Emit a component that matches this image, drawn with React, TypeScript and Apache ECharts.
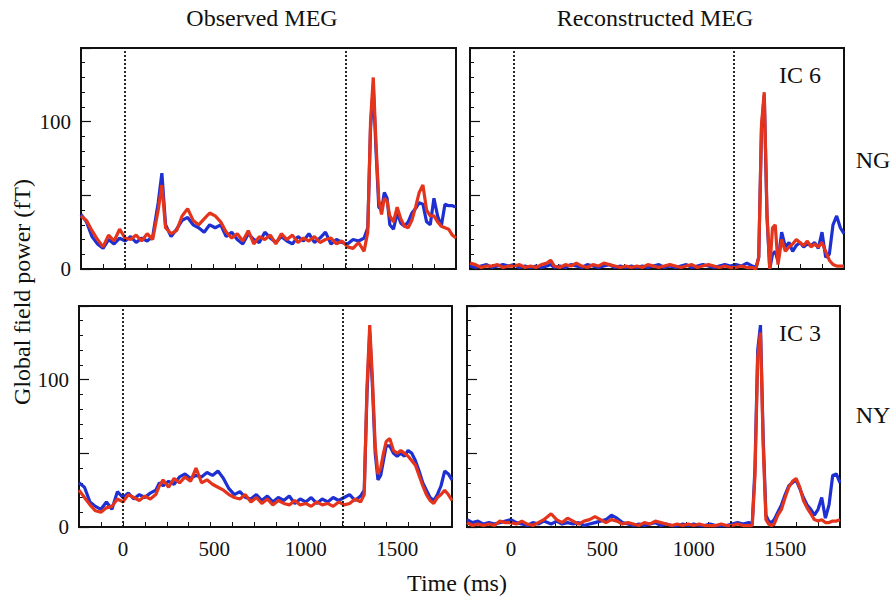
import React, { useEffect, useRef } from "react";
import * as echarts from "echarts";

// Time samples (ms) shared by all traces
const TIME = [-240,-210,-180,-150,-120,-90,-60,-30,0,30,60,90,120,150,180,200,220,250,280,310,340,370,400,430,460,490,520,550,580,610,640,670,700,730,760,790,820,850,880,910,940,970,1000,1030,1060,1090,1120,1150,1180,1210,1240,1270,1300,1320,1335,1350,1365,1380,1395,1410,1425,1440,1460,1480,1500,1520,1540,1560,1580,1600,1620,1640,1660,1680,1700,1720,1740,1760,1780,1800];

// Observed MEG, NG
const OBS_NG_BLUE = [37,32,22,17,14,20,17,21,19,22,18,21,19,22,45,65,30,22,27,33,35,30,28,25,30,28,30,22,25,20,17,24,20,18,25,21,18,22,19,17,22,19,24,18,21,25,17,20,18,17,20,19,21,28,95,124,80,42,40,52,48,30,27,38,31,29,32,38,41,45,44,32,30,48,36,29,44,43,43,42];
const OBS_NG_RED = [36,33,26,20,15,23,19,27,21,20,23,19,24,20,40,57,28,24,26,36,41,33,30,34,38,36,32,25,21,24,19,26,17,22,20,23,17,24,20,23,18,21,19,22,18,20,21,17,19,15,14,18,12,25,100,130,85,47,37,48,46,36,32,42,34,29,28,33,42,52,57,40,36,36,32,29,28,27,23,21];

// Reconstructed MEG, NG (IC 6)
const REC_NG_BLUE = [2,1,2,3,1,2,3,2,3,1,2,1,2,1,2,3,1,2,1,3,2,1,3,2,1,2,3,1,2,1,2,1,2,1,2,3,1,2,1,2,3,1,2,3,2,1,2,3,2,3,2,4,2,1,8,95,118,35,0,10,12,5,25,15,18,12,16,18,15,17,16,18,14,25,8,10,30,36,28,24];
const REC_NG_RED = [4,3,1,2,2,3,1,2,2,3,1,2,1,3,4,6,2,1,3,2,4,2,1,3,2,4,3,2,1,2,1,2,1,3,2,1,2,3,2,1,2,3,1,2,3,2,1,2,1,1,2,1,1,0,8,98,120,38,0,28,30,3,20,12,15,17,20,18,16,19,15,17,15,18,12,6,3,2,2,2];

// Observed MEG, NY
const OBS_NY_BLUE = [30,27,17,14,12,17,12,24,20,23,19,22,20,23,25,30,28,31,29,34,36,33,35,34,37,35,38,33,26,22,24,20,19,22,18,21,17,20,18,21,16,19,17,20,16,19,17,20,18,20,22,18,21,25,90,132,95,50,32,35,45,55,55,50,48,50,48,52,50,45,38,30,25,20,18,22,28,38,36,32];
const OBS_NY_RED = [25,20,15,11,10,13,14,19,17,22,20,18,21,19,22,28,32,27,33,30,34,31,40,30,32,29,27,25,22,20,19,22,17,20,16,19,15,18,16,15,18,15,16,14,17,15,16,14,17,15,16,19,17,22,95,137,100,55,36,40,50,58,60,52,50,52,50,48,45,42,35,28,22,18,16,20,22,25,22,18];

// Reconstructed MEG, NY (IC 3)
const REC_NY_BLUE = [5,3,4,2,3,2,3,4,5,3,2,1,3,2,4,3,2,4,2,3,2,3,1,2,3,4,5,8,6,3,2,1,2,1,2,3,1,2,1,1,2,1,2,1,1,2,1,1,1,2,3,2,3,2,40,120,137,60,8,4,3,5,10,15,22,28,30,32,26,20,15,12,8,12,20,6,15,35,36,30];
const REC_NY_RED = [3,1,2,1,2,1,4,3,3,2,4,2,1,3,5,7,9,5,3,6,4,2,4,5,7,5,3,5,4,2,3,2,1,3,2,4,3,2,1,2,1,2,1,2,1,1,1,2,1,1,2,1,1,1,35,115,132,55,5,2,1,2,8,12,20,27,31,33,27,18,13,9,5,4,5,3,3,4,4,5];

const X_TICKS = [-240,-120,0,120,240,360,480,600,720,840,960,1080,1200,1320,1440,1560,1680,1800];
const X_LABELS = [0, 500, 1000, 1500];
const Y_LABELS = [0, 100];
const MARKERS = [0, 1200];

const BLUE = "#1f30d2";
const RED = "#e5341c";
const FONT = "Liberation Serif";

export default function App() {
  const ref = useRef<HTMLDivElement>(null);
  useEffect(() => {
    if (!ref.current) return;
    const chart = echarts.init(ref.current, null, { renderer: "svg" });
    const grids = [
      { left: 81, top: 48, width: 375, height: 221 },
      { left: 470, top: 48, width: 374, height: 221 },
      { left: 79, top: 306, width: 373, height: 221 },
      { left: 467, top: 306, width: 373, height: 221 },
    ];
    const panels = [
      [OBS_NG_BLUE, OBS_NG_RED],
      [REC_NG_BLUE, REC_NG_RED],
      [OBS_NY_BLUE, OBS_NY_RED],
      [REC_NY_BLUE, REC_NY_RED],
    ];
    const xAxis = grids.map((_, i) => ({
      type: "value",
      gridIndex: i,
      min: -240,
      max: 1800,
      interval: 120,
      axisLine: { show: true, onZero: false, lineStyle: { color: "#111", width: 2 } },
      axisTick: { show: true, inside: true, length: 5, lineStyle: { color: "#111", width: 1 }, customValues: X_TICKS },
      axisLabel: {
        show: i >= 2,
        customValues: X_LABELS,
        formatter: (v: number) => String(v),
        margin: 11,
        fontFamily: FONT,
        fontSize: 21,
        color: "#111",
      },
      splitLine: { show: false },
    }));
    const yAxis = grids.map((_, i) => ({
      type: "value",
      gridIndex: i,
      min: 0,
      max: 150,
      interval: 50,
      axisLine: { show: true, onZero: false, lineStyle: { color: "#111", width: 2 } },
      axisTick: { show: true, inside: true, length: 10, lineStyle: { color: "#111", width: 1.2 } },
      minorTick: { show: true, splitNumber: 5, length: 4, lineStyle: { color: "#111", width: 1 } },
      axisLabel: {
        show: i % 2 === 0,
        customValues: Y_LABELS,
        formatter: (v: number) => String(v),
        margin: 10,
        fontFamily: FONT,
        fontSize: 21,
        color: "#111",
      },
      splitLine: { show: false },
      minorSplitLine: { show: false },
    }));
    const series: any[] = [];
    panels.forEach((pair, i) => {
      pair.forEach((vals, j) => {
        series.push({
          type: "line",
          xAxisIndex: i,
          yAxisIndex: i,
          data: TIME.map((t, k) => [t, vals[k]]),
          showSymbol: false,
          symbol: "none",
          lineStyle: { color: j === 0 ? BLUE : RED, width: 3.2 },
          z: j === 0 ? 3 : 4,
          clip: true,
          markLine:
            j === 1
              ? {
                  silent: true,
                  symbol: "none",
                  label: { show: false },
                  lineStyle: { color: "#111", type: [2, 2], width: 1.8 },
                  data: MARKERS.map((m) => ({ xAxis: m })),
                }
              : undefined,
        });
      });
    });
    const txt = (text: string, x: number, y: number, extra: any = {}) => ({
      type: "text",
      x,
      y,
      style: {
        text,
        fontFamily: FONT,
        fontSize: 24,
        fill: "#111",
        align: "center",
        verticalAlign: "middle",
        ...extra,
      },
    });
    chart.setOption({
      animation: false,
      backgroundColor: "#fff",
      grid: grids.map((g) => ({ ...g, show: true, borderColor: "#111", borderWidth: 2, backgroundColor: "transparent" })),
      xAxis,
      yAxis,
      series,
      graphic: [
        txt("Observed MEG", 262, 18),
        txt("Reconstructed MEG", 655, 18),
        txt("NG", 873, 160),
        txt("NY", 873, 415),
        txt("IC 6", 800, 75),
        txt("IC 3", 800, 333),
        txt("Time (ms)", 457, 583),
        {
          type: "text",
          x: 22,
          y: 292,
          rotation: Math.PI / 2,
          style: {
            text: "Global field power (fT)",
            fontFamily: FONT,
            fontSize: 24,
            fill: "#111",
            align: "center",
            verticalAlign: "middle",
          },
        },
      ],
    });
    return () => chart.dispose();
  }, []);
  return (
    <div
      ref={ref}
      style={{ position: "absolute", left: 0, top: 0, width: 894, height: 600 }}
    />
  );
}
